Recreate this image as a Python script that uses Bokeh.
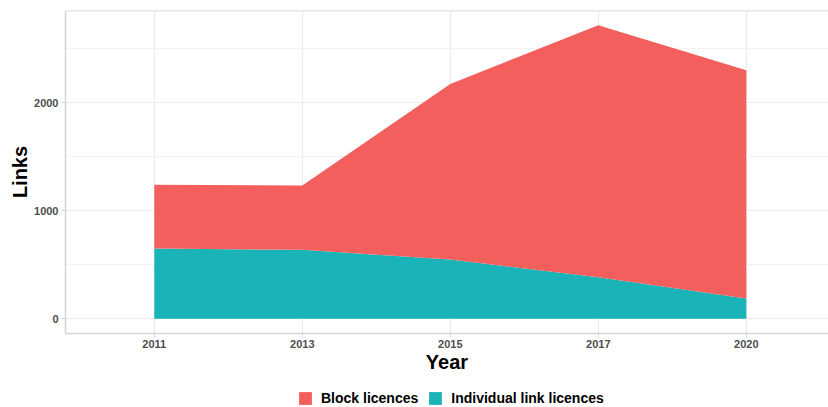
from bokeh.plotting import figure
from bokeh.layouts import column
from bokeh.models import (ColumnDataSource, FixedTicker, Legend, LegendItem,
                          Span, Range1d)
from bokeh.embed import file_html
from bokeh.resources import INLINE

# ---- data ----
years = ["2011", "2013", "2015", "2017", "2020"]
individual = [650, 638, 548, 385, 187]
block = [591, 595, 1624, 2332, 2114]
series_labels = ["Block licences", "Individual link licences"]
y_ticks = [0, 1000, 2000]
y_minor = [500, 1500, 2500]

RED = "#F25F5C"
TEAL = "#1AB3B8"
FONT = "Liberation Sans"

x = list(range(1, len(years) + 1))
src = ColumnDataSource(dict(x=x, indiv=individual, block=block))

totals = [i + b for i, b in zip(individual, block)]
pad = 0.05 * max(totals)

FRAME_W, FRAME_H = 763, 323
LEFT, TOP, BOTTOM = 65, 10, 44
unit_px = 148.0
x_start = 0.4
x_end = x_start + FRAME_W / unit_px

p = figure(frame_width=FRAME_W, frame_height=FRAME_H, x_range=(x_start, x_end),
           y_range=(-pad, max(totals) + pad),
           output_backend="svg", toolbar_location=None,
           min_border_left=LEFT, min_border_right=0,
           min_border_top=TOP, min_border_bottom=BOTTOM)
p.outline_line_color = None
p.background_fill_color = "white"
p.border_fill_color = "white"

rs = p.varea_stack(["indiv", "block"], x="x", color=[TEAL, RED], source=src)

# grids
p.xgrid.ticker = FixedTicker(ticks=x)
p.xgrid.grid_line_color = "#ebebeb"
p.xgrid.grid_line_width = 1.2
p.ygrid.ticker = FixedTicker(ticks=y_ticks, minor_ticks=y_minor)
p.ygrid.grid_line_color = "#ebebeb"
p.ygrid.grid_line_width = 1.2
p.ygrid.minor_grid_line_color = "#f2f2f2"
p.ygrid.minor_grid_line_width = 1

# axes
BORDER = "#d4d4d4"
p.xaxis.ticker = FixedTicker(ticks=x)
p.xaxis.major_label_overrides = {xi: y for xi, y in zip(x, years)}
p.yaxis.ticker = FixedTicker(ticks=y_ticks, minor_ticks=y_minor)
for ax in (p.xaxis[0], p.yaxis[0]):
    ax.axis_line_color = BORDER
    ax.axis_line_width = 1.5
    ax.major_tick_line_color = BORDER
    ax.major_tick_in = 0
    ax.major_tick_out = 4
    ax.minor_tick_line_color = None
    ax.major_label_text_font = FONT
    ax.major_label_text_font_style = "bold"
    ax.major_label_text_font_size = "11px"
    ax.major_label_text_color = "#4d4d4d"
    ax.axis_label_text_font = FONT
    ax.axis_label_text_font_style = "bold"
    ax.axis_label_text_font_size = "20px"
    ax.axis_label_text_color = "black"
    ax.axis_label_standoff = 0
p.xaxis.axis_label = "Year"
p.yaxis.axis_label = "Links"
p.xaxis.major_label_standoff = 2
p.yaxis.major_label_standoff = 3

# top border
p.add_layout(Span(location=max(totals) + pad, dimension="width",
                  line_color=BORDER, line_width=1.5))

# ---- legend strip (separate small figure below the chart) ----
LEG_H = 407 - (TOP + FRAME_H + BOTTOM)
q = figure(width=LEFT + FRAME_W, height=LEG_H, x_range=Range1d(-10, -9),
           y_range=Range1d(0, 1), output_backend="svg", toolbar_location=None,
           x_axis_type=None, y_axis_type=None,
           min_border_left=0, min_border_right=0,
           min_border_top=0, min_border_bottom=0)
q.outline_line_color = None
q.xgrid.visible = False
q.ygrid.visible = False
# legend-only renderers (same data, drawn outside the strip's visible range)
leg_block = q.varea(x="x", y1=0, y2="block", source=src, fill_color=RED)
leg_indiv = q.varea(x="x", y1=0, y2="indiv", source=src, fill_color=TEAL)

legend = Legend(items=[LegendItem(label=series_labels[0], renderers=[leg_block]),
                       LegendItem(label=series_labels[1], renderers=[leg_indiv])],
                orientation="horizontal", location=(232, 1))
legend.label_text_font = FONT
legend.label_text_font_style = "bold"
legend.label_text_font_size = "14px"
legend.label_text_color = "black"
legend.glyph_width = 16
legend.glyph_height = 16
legend.label_height = 16
legend.label_standoff = 8
legend.spacing = 9
legend.padding = 0
legend.margin = 0
legend.border_line_color = None
legend.background_fill_alpha = 0
q.add_layout(legend, "center")

layout = column(p, q, spacing=0)
open("out.html", "w").write(file_html(layout, INLINE))
